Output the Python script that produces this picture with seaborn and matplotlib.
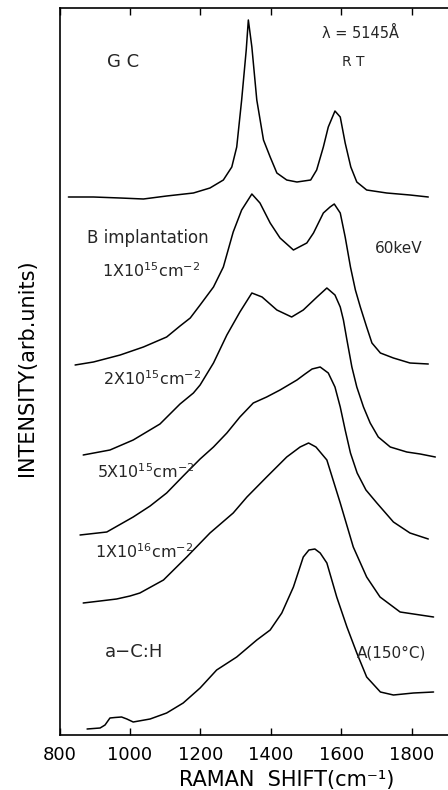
import numpy as np
import pandas as pd
import matplotlib
matplotlib.use("Agg")
import matplotlib.pyplot as plt
import seaborn as sns

# ---- data (Raman shift in cm^-1, intensity in arb. units, vertically offset) ----
gc_shift = [825, 896, 972, 1038, 1104, 1180, 1227, 1265, 1289, 1303, 1317, 1330, 1336,
            1346, 1360, 1379, 1398, 1417, 1445, 1474, 1513, 1530, 1549, 1563, 1582,
            1597, 1611, 1627, 1644, 1672, 1729, 1795, 1847]
gc_int = [538, 538, 537, 536, 539, 542, 547, 555, 568, 588, 635, 685, 715,
          688, 635, 595, 578, 562, 555, 553, 555, 565, 588, 608, 624,
          618, 592, 568, 553, 545, 542, 540, 538]

b1e15_shift = [844, 896, 972, 1038, 1104, 1142, 1171, 1199, 1237, 1265, 1293, 1317, 1346,
               1369, 1398, 1426, 1464, 1502, 1521, 1549, 1568, 1580, 1597, 1611, 1626,
               1640, 1654, 1672, 1687, 1711, 1748, 1795, 1847]
b1e15_int = [370, 373, 380, 388, 398, 409, 417, 430, 448, 468, 503, 525, 541,
             532, 512, 497, 485, 492, 502, 522, 528, 531, 522, 498, 468,
             445, 428, 408, 392, 382, 377, 372, 371]

b2e15_shift = [867, 943, 1009, 1085, 1142, 1180, 1199, 1237, 1275, 1312, 1346, 1375, 1417,
               1459, 1492, 1531, 1559, 1582, 1597, 1606, 1616, 1630, 1644, 1663, 1682,
               1705, 1739, 1786, 1824, 1867]
b2e15_int = [280, 285, 295, 311, 331, 342, 350, 372, 400, 423, 442, 438, 425,
             418, 425, 438, 447, 440, 428, 415, 395, 368, 348, 328, 312,
             298, 288, 283, 281, 278]

b5e15_shift = [858, 934, 1009, 1057, 1104, 1151, 1199, 1237, 1275, 1312, 1350, 1388, 1426,
               1474, 1497, 1517, 1540, 1563, 1582, 1597, 1611, 1626, 1645, 1670, 1701,
               1748, 1795, 1847]
b5e15_int = [200, 203, 218, 229, 242, 259, 276, 288, 302, 318, 332, 338, 345,
             355, 361, 366, 368, 362, 348, 328, 305, 282, 262, 245, 232,
             213, 202, 196]

b1e16_shift = [867, 915, 962, 1000, 1028, 1095, 1161, 1227, 1293, 1332, 1388, 1445, 1483,
               1507, 1528, 1559, 1597, 1634, 1672, 1710, 1767, 1862]
b1e16_int = [132, 134, 136, 139, 142, 155, 178, 202, 222, 238, 258, 278, 288,
             292, 288, 275, 232, 188, 158, 138, 123, 118]

ach_shift = [878, 915, 929, 943, 957, 976, 991, 1009, 1057, 1104, 1151, 1199, 1246,
             1303, 1360, 1398, 1431, 1464, 1492, 1508, 1525, 1540, 1559, 1587, 1616,
             1644, 1672, 1711, 1748, 1805, 1862]
ach_int = [6, 7, 10, 17, 17.5, 18, 16, 13, 16, 22, 32, 47, 65,
           78, 95, 105, 122, 148, 178, 185, 186, 182, 172, 138, 108,
           82, 58, 43, 40, 42, 43]

sample_names = ["GC", "1e15", "2e15", "5e15", "1e16", "a-C:H"]
x_ticks = [800, 1000, 1200, 1400, 1600, 1800]

series = [(gc_shift, gc_int), (b1e15_shift, b1e15_int), (b2e15_shift, b2e15_int),
          (b5e15_shift, b5e15_int), (b1e16_shift, b1e16_int), (ach_shift, ach_int)]
frames = []
for name, (xs, ys) in zip(sample_names, series):
    frames.append(pd.DataFrame({"shift": xs, "intensity": ys, "sample": name}))
df = pd.concat(frames, ignore_index=True)

# ---- styling ----
sns.set_style("white")
plt.rcParams["font.family"] = ["DejaVu Sans"]
plt.rcParams["mathtext.fontset"] = "dejavusans"

fig = plt.figure(figsize=(4.48, 7.9), dpi=100)
ax = fig.add_axes([59.6 / 448, 55 / 790, (448 - 59.6) / 448, 727 / 790])

sns.lineplot(data=df, x="shift", y="intensity", units="sample", estimator=None,
             sort=False, color="black", linewidth=1.1, legend=False, ax=ax)

ax.set_xlim(800, 1903)
ax.set_ylim(0, 727)
ax.set_xticks(x_ticks)
ax.set_xticklabels([str(t) for t in x_ticks])
ax.set_yticks([])
ax.tick_params(axis="x", direction="in", length=5, width=1.0, labelsize=13,
               pad=8, top=True, bottom=True, color="black", labelcolor="black")
for side in ["left", "top", "bottom"]:
    ax.spines[side].set_color("black")
    ax.spines[side].set_linewidth(1.2)
ax.spines["right"].set_visible(False)

ax.set_xlabel("RAMAN  SHIFT(cm⁻¹)", fontsize=15, color="black")
ax.xaxis.label.set_va("center")
ax.xaxis.set_label_coords(0.585, -0.062)
ax.set_ylabel("INTENSITY(arb.units)", fontsize=15, color="black")
ax.yaxis.label.set_va("center")
ax.yaxis.set_label_coords(-0.084, 0.505)

# ---- annotations ----
ax.text(980, 673, "G C", fontsize=13, ha="center", va="center")
ax.text(1653, 702, "λ = 5145Å", fontsize=10.5, ha="center", va="center")
ax.text(1633, 673, "R T", fontsize=10, ha="center", va="center")
ax.text(877, 497, "B implantation", fontsize=12, ha="left", va="center")
ax.text(1696, 482, "60keV", fontsize=11, ha="left", va="baseline")
ax.text(920, 458, r"1X10$^{15}$cm$^{-2}$", fontsize=11.5, ha="left", va="baseline")
ax.text(923, 350, r"2X10$^{15}$cm$^{-2}$", fontsize=11.5, ha="left", va="baseline")
ax.text(905, 257, r"5X10$^{15}$cm$^{-2}$", fontsize=11.5, ha="left", va="baseline")
ax.text(901, 177, r"1X10$^{16}$cm$^{-2}$", fontsize=11.5, ha="left", va="baseline")
ax.text(929, 78, "a−C:H", fontsize=13, ha="left", va="baseline")
ax.text(1644, 78, "A(150°C)", fontsize=11, ha="left", va="baseline")

fig.savefig("out.png", dpi=100)
